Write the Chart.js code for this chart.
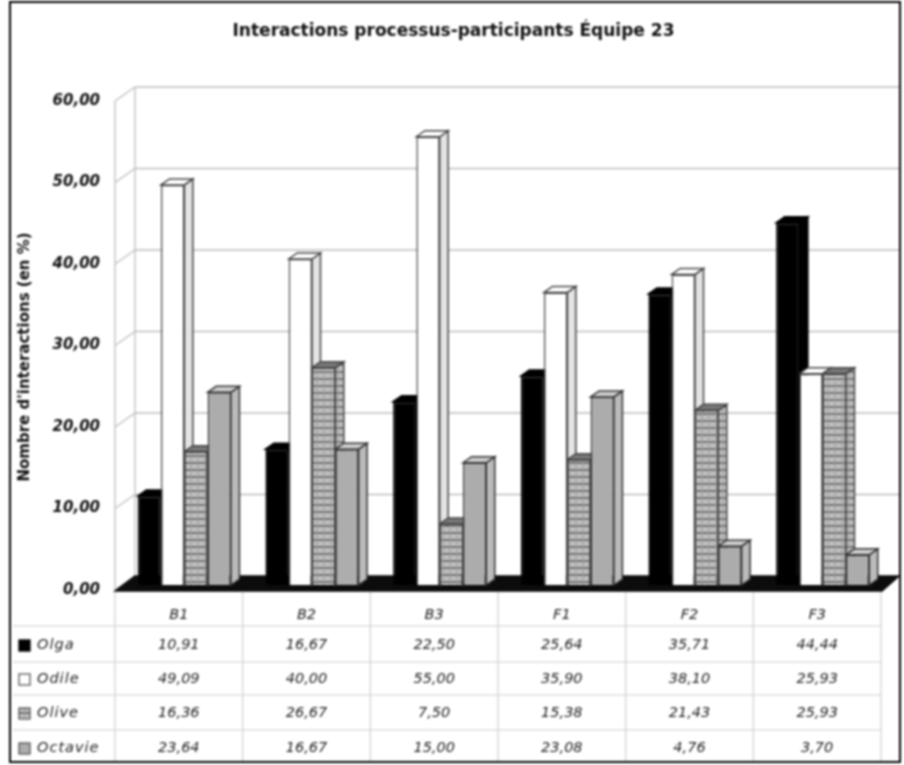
<!DOCTYPE html>
<html lang="fr">
<head>
<meta charset="utf-8">
<title>Interactions processus-participants</title>
<script src="https://cdn.jsdelivr.net/npm/chart.js@4/dist/chart.umd.min.js"></script>
<style>
  html, body { margin: 0; padding: 0; background: #fff; }
  canvas { display: block; filter: blur(0.8px); }
</style>
</head>
<body>
<canvas id="grafico" width="904" height="765"></canvas>
<script>
const categories = ["B1", "B2", "B3", "F1", "F2", "F3"];
const olga = [10.91, 16.67, 22.50, 25.64, 35.71, 44.44];
const odile = [49.09, 40.00, 55.00, 35.90, 38.10, 25.93];
const olive = [16.36, 26.67, 7.50, 15.38, 21.43, 25.93];
const octavie = [23.64, 16.67, 15.00, 23.08, 4.76, 3.70];
const yTicks = [0, 10, 20, 30, 40, 50, 60];
const titre = "Interactions processus-participants Équipe 23";
const titreAxe = "Nombre d'interactions (en %)";

const FONT = '"DejaVu Sans"';
const virgule = v => v.toFixed(2).replace(".", ",");

function motif(taille, dessin) {
    const c = document.createElement("canvas");
    c.width = taille;
    c.height = taille;
    dessin(c.getContext("2d"));
    return c.getContext("2d").createPattern(c, "repeat");
}

const motifOlive = motif(7, g => {
    g.fillStyle = "#cfcfcf";
    g.fillRect(0, 0, 7, 7);
    g.fillStyle = "#666";
    g.fillRect(0, 5, 7, 2);
    g.fillStyle = "#9a9a9a";
    g.fillRect(3, 0, 1, 7);
    g.fillRect(0, 2, 7, 1);
});
const motifOctavie = motif(3, g => {
    g.fillStyle = "#b0b0b0";
    g.fillRect(0, 0, 3, 3);
    g.fillStyle = "#979797";
    g.fillRect(0, 0, 1, 1);
    g.fillRect(2, 1, 1, 1);
    g.fillStyle = "#c6c6c6";
    g.fillRect(1, 2, 1, 1);
});

const series = [
    { label: "Olga", data: olga, fond: "#000", cote: "#000", dessus: "#000", trait: "#000" },
    { label: "Odile", data: odile, fond: "#fff", cote: "#e4e4e4", dessus: "#fff", trait: "#444" },
    { label: "Olive", data: olive, fond: motifOlive, cote: motifOlive, dessus: "#777", trait: "#444" },
    { label: "Octavie", data: octavie, fond: motifOctavie, cote: "#bbb", dessus: "#ccc", trait: "#333" }
];

const PROF_X = 20, PROF_Y = 14;        // depth of the walls
const BARRE_X = 5.5, BARRE_Y = 5;      // bars stand in the middle of the floor
const COTE_X = 8.5, COTE_Y = 6;        // depth of a bar

function ligne(ctx, x1, y1, x2, y2) {
    ctx.beginPath();
    ctx.moveTo(x1, y1);
    ctx.lineTo(x2, y2);
    ctx.stroke();
}

function poly(ctx, pts, fond, trait) {
    ctx.beginPath();
    pts.forEach((p, i) => i ? ctx.lineTo(p[0], p[1]) : ctx.moveTo(p[0], p[1]));
    ctx.closePath();
    ctx.fillStyle = fond;
    ctx.fill();
    ctx.strokeStyle = trait;
    ctx.lineWidth = 1.5;
    ctx.stroke();
}

const decor = {
    id: "decor",
    beforeDatasetsDraw(chart) {
        const { ctx, chartArea: a, scales: { y } } = chart;
        ctx.save();
        // walls
        ctx.strokeStyle = "#bdbdbd";
        ctx.lineWidth = 1.3;
        ligne(ctx, a.left, y.getPixelForValue(60), a.left, a.bottom);
        ligne(ctx, a.left + PROF_X, y.getPixelForValue(60) - PROF_Y, a.left + PROF_X, a.bottom - PROF_Y);
        yTicks.forEach(t => {
            const py = y.getPixelForValue(t);
            ligne(ctx, a.left, py, a.left + PROF_X, py - PROF_Y);
            if (t > 0) ligne(ctx, a.left + PROF_X, py - PROF_Y, 900, py - PROF_Y);
        });
        // floor
        poly(ctx, [[a.left, a.bottom + 1], [a.left + PROF_X, a.bottom - PROF_Y], [899, a.bottom - PROF_Y],
            [a.right + 1, a.bottom + 1]], "#0c0c0c", "#0c0c0c");
        ctx.restore();

        // sides and tops, left to right, before the library draws the fronts
        ctx.save();
        ctx.translate(BARRE_X, BARRE_Y * -1);
        categories.forEach((c, i) => {
            series.forEach((s, d) => {
                const b = chart.getDatasetMeta(d).data[i];
                const g = b.x - b.width / 2, dr = b.x + b.width / 2;
                poly(ctx, [[dr, b.y], [dr + COTE_X, b.y - COTE_Y], [dr + COTE_X, b.base - COTE_Y], [dr, b.base]], s.cote, s.trait);
                poly(ctx, [[g, b.y], [g + COTE_X, b.y - COTE_Y], [dr + COTE_X, b.y - COTE_Y], [dr, b.y]], s.dessus, s.trait);
            });
        });
        ctx.restore();

        ctx.save();
        ctx.translate(BARRE_X, BARRE_Y * -1);
    },
    afterDatasetsDraw(chart) {
        const { ctx, chartArea: a, scales: { x } } = chart;
        ctx.restore();

        ctx.save();
        // table
        const lignes = [626, 662, 695, 730];
        const centres = [645, 679, 713, 748];
        ctx.strokeStyle = "#cfcfcf";
        ctx.lineWidth = 1.2;
        lignes.forEach(py => ligne(ctx, 13, py, a.right, py));
        ligne(ctx, a.left, 592, a.left, 761);
        categories.forEach((c, i) => {
            const px = x.getPixelForValue(i) + (a.right - a.left) / 12;
            ligne(ctx, px, 592, px, 761);
        });
        ctx.textBaseline = "middle";
        series.forEach((s, d) => {
            const py = centres[d];
            ctx.fillStyle = s.fond;
            ctx.strokeStyle = d === 0 ? "#000" : "#555";
            ctx.lineWidth = 1.3;
            ctx.fillRect(19, py - 5, 11, 11);
            ctx.strokeRect(19, py - 5, 11, 11);
            ctx.fillStyle = "#222";
            ctx.font = "italic 14.5px " + FONT;
            ctx.textAlign = "left";
            ctx.letterSpacing = "1px";
            ctx.fillText(s.label, 37, py);
            ctx.letterSpacing = "0px";
            ctx.textAlign = "center";
            s.data.forEach((v, i) => ctx.fillText(virgule(v), x.getPixelForValue(i), py));
        });

        // axis title, its centre is not the centre of the plot
        ctx.save();
        ctx.translate(25, 357);
        ctx.rotate(-Math.PI / 2);
        ctx.font = "bold 15px " + FONT;
        ctx.fillStyle = "#111";
        ctx.textAlign = "center";
        ctx.fillText(titreAxe, 0, 0);
        ctx.restore();

        // frame of the scan
        ctx.strokeStyle = "#000";
        ctx.lineWidth = 2;
        ctx.strokeRect(10, 2, 890, 760);
        ctx.restore();
    }
};

new Chart(document.getElementById("grafico"), {
    type: "bar",
    data: {
        labels: categories,
        datasets: series.map(s => ({
            label: s.label,
            data: s.data,
            backgroundColor: s.fond,
            borderColor: s.trait,
            borderWidth: 1.5,
            barPercentage: 1,
            categoryPercentage: 0.73,
            clip: false
        }))
    },
    options: {
        responsive: false,
        animation: false,
        devicePixelRatio: 1,
        layout: { padding: { left: 26, right: 23, top: 0, bottom: 0 } },
        plugins: {
            legend: { display: false },
            tooltip: { enabled: false },
            title: {
                display: true,
                text: titre,
                color: "#111",
                font: { family: FONT, size: 17, weight: "bold" },
                padding: { top: 21, bottom: 59.6 }
            }
        },
        scales: {
            x: {
                grid: { display: false },
                border: { display: false },
                ticks: {
                    color: "#222",
                    padding: 9,
                    maxRotation: 0,
                    font: { family: FONT, size: 14.5, style: "italic" }
                },
                afterFit(scale) { scale.height = 175; }
            },
            y: {
                min: 0,
                max: 60,
                afterBuildTicks(scale) { scale.ticks = yTicks.map(v => ({ value: v })); },
                grid: { display: false },
                border: { display: false },
                ticks: {
                    color: "#111",
                    padding: 7,
                    callback: v => virgule(v),
                    font: { family: FONT, size: 15, weight: "bold", style: "italic" }
                },
                afterFit(scale) { scale.width = 89; }
            }
        }
    },
    plugins: [decor]
});
</script>
</body>
</html>
